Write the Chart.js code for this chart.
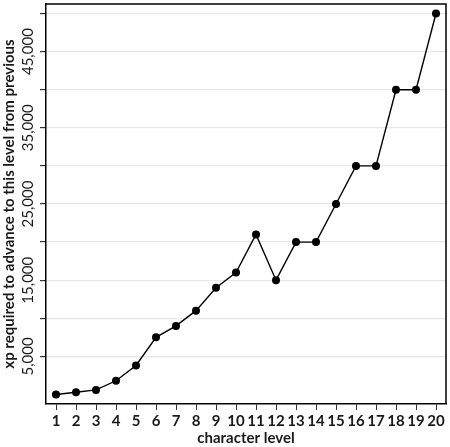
<!DOCTYPE html>
<html><head><meta charset="utf-8">
<script src="https://cdn.jsdelivr.net/npm/chart.js@4/dist/chart.umd.min.js"></script>
<style>html,body{margin:0;padding:0;background:#fff}#wrap{width:450px;height:447px}</style>
</head><body><div id="wrap"><canvas id="c" width="450" height="447"></canvas></div>
<script>
const levels = [1,2,3,4,5,6,7,8,9,10,11,12,13,14,15,16,17,18,19,20];
const xpValues = [0,300,600,1800,3800,7500,9000,11000,14000,16000,21000,15000,20000,20000,25000,30000,30000,40000,40000,50000];
const yTicks = [5000,10000,15000,20000,25000,30000,35000,40000,45000,50000];
const yLabeled = [5000,15000,25000,35000,45000];
const xTitle = 'character level';
const yTitle = 'xp required to advance to this level from previous';

const FONT = 'Lato, "Open Sans", sans-serif';

const frame = {
  id:'frame',
  afterDraw(chart){
    const {ctx, chartArea:a, scales} = chart;
    ctx.save();
    ctx.strokeStyle = '#000'; ctx.lineWidth = 1.5;
    ctx.beginPath();
    ctx.moveTo(a.left, a.top); ctx.lineTo(a.right, a.top); ctx.lineTo(a.right, a.bottom);
    ctx.stroke();
    ctx.fillStyle = '#1a1a1a';
    ctx.font = '15px ' + FONT;
    ctx.textAlign = 'center'; ctx.textBaseline = 'middle';
    yLabeled.forEach(v=>{
      const y = scales.y.getPixelForValue(v);
      ctx.save(); ctx.translate(28, y); ctx.rotate(-Math.PI/2);
      ctx.fillText(v.toLocaleString('en-US'), 0, 0);
      ctx.restore();
    });
    ctx.restore();
  }
};

new Chart(document.getElementById('c'), {
  type:'line',
  data:{datasets:[{
    data: levels.map((l,i)=>({x:l, y:xpValues[i]})),
    borderColor:'#000', borderWidth:1.4, backgroundColor:'#000',
    pointRadius:4, pointBackgroundColor:'#000', pointBorderWidth:0, tension:0
  }]},
  options:{
    responsive:false, animation:false,
    layout:{padding:{top:1,right:1}},
    plugins:{legend:{display:false}, tooltip:{enabled:false}},
    scales:{
      x:{type:'linear', min:0.5, max:20.5,
        afterBuildTicks(s){ s.ticks = levels.map(v=>({value:v})); },
        afterFit(s){ s.height = 43; },
        grid:{drawOnChartArea:false, drawTicks:true, tickLength:6, color:'#333'},
        border:{display:true, color:'#000', width:1.5},
        ticks:{color:'#1a1a1a', font:{family:FONT, size:15, weight:'bold'}, padding:2, maxRotation:0, autoSkip:false},
        title:{display:true, text:xTitle, color:'#1a1a1a', font:{family:FONT, size:15, weight:'bold'}, padding:{top:-5,bottom:0}}
      },
      y:{type:'linear', min:-1250, max:51250,
        afterBuildTicks(s){ s.ticks = yTicks.map(v=>({value:v})); },
        afterFit(s){ s.width = 46; },
        grid:{color:'#e6e6e6', lineWidth:1.2, drawTicks:true, tickLength:6, tickColor:'#333'},
        border:{display:true, color:'#000', width:1.5},
        ticks:{display:false},
        title:{display:true, text:yTitle, color:'#1a1a1a', font:{family:FONT, size:15, weight:'bold'}, padding:{top:0,bottom:0}}
      }
    }
  },
  plugins:[frame]
});
</script></body></html>
